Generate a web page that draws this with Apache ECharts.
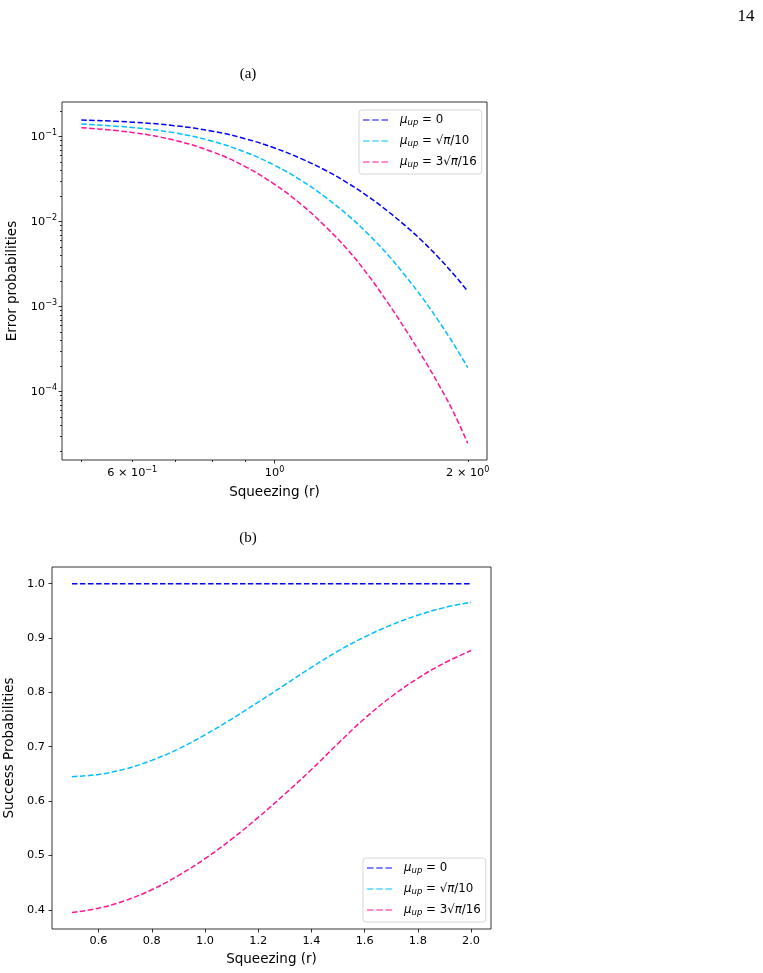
<!DOCTYPE html>
<html>
<head>
<meta charset="utf-8">
<script src="https://cdn.jsdelivr.net/npm/echarts@6/dist/echarts.min.js"></script>
<style>
html, body { margin: 0; padding: 0; background: #fff; }
#chart { width: 763px; height: 973px; }
</style>
</head>
<body>
<div id="chart"></div>
<script>
// squeezing r values (shared x for both panels)
var squeezing = [0.5, 0.6, 0.7, 0.8, 0.9, 1.0, 1.1, 1.2, 1.3, 1.4, 1.5, 1.6, 1.7, 1.8, 1.9, 2.0];

// (a) error probabilities
var errMu0 = [0.1570, 0.1483, 0.1346, 0.1161, 0.0948, 0.0736, 0.0552, 0.0403, 0.0285, 0.0197, 0.01334, 0.00891, 0.00589, 0.00380, 0.00242, 0.00152];
var errMu1 = [0.1409, 0.1282, 0.1107, 0.0885, 0.0659, 0.0461, 0.0306, 0.01945, 0.01197, 0.00711, 0.00413, 0.00229, 0.001268, 0.000685, 0.000366, 0.000192];
var errMu2 = [0.1276, 0.1122, 0.0904, 0.0664, 0.0445, 0.0275, 0.0160, 0.00879, 0.00468, 0.00234, 0.001122, 0.000537, 0.000257, 0.000123, 0.0000575, 0.0000247];

// (b) success probabilities
var succMu0 = [1, 1, 1, 1, 1, 1, 1, 1, 1, 1, 1, 1, 1, 1, 1, 1];
var succMu1 = [0.645, 0.649, 0.659, 0.675, 0.696, 0.722, 0.751, 0.782, 0.814, 0.846, 0.876, 0.902, 0.924, 0.942, 0.956, 0.966];
var succMu2 = [0.395, 0.403, 0.417, 0.437, 0.463, 0.494, 0.530, 0.570, 0.613, 0.658, 0.706, 0.752, 0.792, 0.826, 0.854, 0.877];

var seriesNames = ['mu0', 'mu1', 'mu2'];
var legendRich = [
  '{m0|μ}{s|up}{t| = 0}',
  '{m0|μ}{s|up}{t| = √}{m|π}{t|/10}',
  '{m0|μ}{s|up}{t| = 3√}{m|π}{t|/16}'
];
var colors = ['#0000ff', '#00bfff', '#ff1493'];

// tick positions
var errXLabels = [0.6, 1, 2];
var errXMajor = [1];
var errXMinor = [0.5, 0.6, 0.7, 0.8, 0.9, 2];
var errYMajor = [1e-4, 1e-3, 1e-2, 1e-1];
var errYMinor = [2e-5, 3e-5, 4e-5, 5e-5, 6e-5, 7e-5, 8e-5, 9e-5,
                 2e-4, 3e-4, 4e-4, 5e-4, 6e-4, 7e-4, 8e-4, 9e-4,
                 2e-3, 3e-3, 4e-3, 5e-3, 6e-3, 7e-3, 8e-3, 9e-3,
                 2e-2, 3e-2, 4e-2, 5e-2, 6e-2, 7e-2, 8e-2, 9e-2, 2e-1];
var succXTicks = [0.6, 0.8, 1.0, 1.2, 1.4, 1.6, 1.8, 2.0];
var succYTicks = [0.4, 0.5, 0.6, 0.7, 0.8, 0.9, 1.0];

var FONT = 'DejaVu Sans';

// 6e-1 -> "6 × 10^-1" as rich text
function logLabel(v) {
  var e = Math.floor(Math.log10(v) + 1e-9);
  var m = Math.round(v / Math.pow(10, e));
  return '{b|' + (m === 1 ? '' : m + ' × ') + '10}{e|' + String(e).replace('-', '−') + '}';
}
function pairs(xs, ys) {
  return xs.map(function (x, i) { return [x, ys[i]]; });
}

var chart = echarts.init(document.getElementById('chart'));

var tickStyle = { color: '#000', width: 0.8 };
var labelStyle = { color: '#000', fontFamily: FONT, fontSize: 11.3 };
var nameStyle = { color: '#000', fontFamily: FONT, fontSize: 13.5 };
var logRich = {
  b: { color: '#000', fontFamily: FONT, fontSize: 11.3 },
  e: { color: '#000', fontFamily: FONT, fontSize: 8, padding: [0, 0, 7, 0] }
};

var richStyle = {
  m0: { fontFamily: FONT, fontSize: 11.8, fontStyle: 'italic', color: '#000', padding: [0, 0, 0, 7] },
  m: { fontFamily: FONT, fontSize: 11.8, fontStyle: 'italic', color: '#000' },
  s: { fontFamily: FONT, fontSize: 8.5, fontStyle: 'italic', color: '#000', padding: [5, 0, 0, 0] },
  t: { fontFamily: FONT, fontSize: 11.8, color: '#000' }
};
function legendFmt(name) { return legendRich[seriesNames.indexOf(name)]; }

function makeLegend(left, top) {
  return {
    orient: 'vertical', left: left, top: top,
    data: seriesNames.map(function (n, i) {
      return { name: n, itemStyle: { color: colors[i], borderWidth: 0, opacity: 1 } };
    }),
    icon: 'path://M0,0H6.5V1H0Z M9.25,0H15.75V1H9.25Z M18.5,0H25V1H18.5Z',
    itemWidth: 25, itemHeight: 2, itemGap: 8,
    padding: [4, 5, 5, 4],
    borderColor: '#d6d6d6', borderWidth: 1, borderRadius: 3,
    backgroundColor: '#fff',
    formatter: legendFmt,
    textStyle: { rich: richStyle },
    selectedMode: false
  };
}

var errSeries = [errMu0, errMu1, errMu2].map(function (d, i) {
  return {
    name: seriesNames[i], type: 'line', xAxisIndex: 0, yAxisIndex: 0,
    data: pairs(squeezing, d), smooth: 0.4, symbol: 'none',
    lineStyle: { color: colors[i], width: 1.5, type: [5.5, 2.5] },
    itemStyle: { color: colors[i] }
  };
});
var succSeries = [succMu0, succMu1, succMu2].map(function (d, i) {
  return {
    name: seriesNames[i], type: 'line', xAxisIndex: 2, yAxisIndex: 2,
    data: pairs(squeezing, d), smooth: 0.4, symbol: 'none',
    lineStyle: { color: colors[i], width: 1.5, type: [5.5, 2.5] },
    itemStyle: { color: colors[i] }
  };
});

var gridBase = { show: true, borderColor: '#000', borderWidth: 0.8, backgroundColor: 'transparent', containLabel: false, outerBoundsMode: 'none' };

chart.setOption({
  animation: false,
  grid: [
    Object.assign({ left: 62, top: 102, width: 425, height: 358 }, gridBase),
    Object.assign({ left: 52, top: 567, width: 439, height: 362 }, gridBase),
    // same box as (a), only carries the minor log ticks
    { left: 62, top: 102, width: 425, height: 358, show: false, containLabel: false, outerBoundsMode: 'none' }
  ],
  xAxis: [
    {
      type: 'log', gridIndex: 0, min: 0.4665, max: 2.143,
      name: 'Squeezing (r)', nameLocation: 'middle', nameGap: 25, nameTextStyle: nameStyle,
      axisLine: { show: false }, splitLine: { show: false },
      axisTick: { length: 3.5, lineStyle: tickStyle, customValues: errXMajor },
      axisLabel: Object.assign({ margin: 6, customValues: errXLabels, formatter: logLabel, rich: logRich }, labelStyle)
    },
    {
      type: 'log', gridIndex: 2, min: 0.4665, max: 2.143, position: 'bottom',
      axisLine: { show: false }, splitLine: { show: false }, axisLabel: { show: false },
      axisTick: { length: 2, lineStyle: tickStyle, customValues: errXMinor }
    },
    {
      type: 'value', gridIndex: 1, min: 0.425, max: 2.075,
      name: 'Squeezing (r)', nameLocation: 'middle', nameGap: 23, nameTextStyle: nameStyle,
      axisLine: { show: false }, splitLine: { show: false },
      axisTick: { length: 3.5, lineStyle: tickStyle, customValues: succXTicks },
      axisLabel: Object.assign({ margin: 7, customValues: succXTicks, formatter: function (v) { return v.toFixed(1); } }, labelStyle)
    }
  ],
  yAxis: [
    {
      type: 'log', gridIndex: 0, min: 1.57e-5, max: 0.256,
      name: 'Error probabilities', nameLocation: 'middle', nameGap: 40, nameTextStyle: nameStyle,
      axisLine: { show: false }, splitLine: { show: false },
      axisTick: { length: 3.5, lineStyle: tickStyle, customValues: errYMajor },
      axisLabel: Object.assign({ margin: 5, customValues: errYMajor, formatter: logLabel, rich: logRich }, labelStyle)
    },
    {
      type: 'log', gridIndex: 2, min: 1.57e-5, max: 0.256, position: 'left',
      axisLine: { show: false }, splitLine: { show: false }, axisLabel: { show: false },
      axisTick: { length: 2, lineStyle: tickStyle, customValues: errYMinor }
    },
    {
      type: 'value', gridIndex: 1, min: 0.3647, max: 1.0307,
      name: 'Success Probabilities', nameLocation: 'middle', nameGap: 31, nameTextStyle: nameStyle,
      axisLine: { show: false }, splitLine: { show: false },
      axisTick: { length: 3.5, lineStyle: tickStyle, customValues: succYTicks },
      axisLabel: Object.assign({ margin: 7, customValues: succYTicks, formatter: function (v) { return v.toFixed(1); } }, labelStyle)
    }
  ],
  legend: [makeLegend(359, 110), makeLegend(363, 858)],
  graphic: [
    { type: 'text', x: 746, y: 17, style: { text: '14', font: '17px "Liberation Serif"', fill: '#000', textAlign: 'center', textVerticalAlign: 'middle' } },
    { type: 'text', x: 248, y: 74, style: { text: '(a)', font: '15px "Liberation Serif"', fill: '#000', textAlign: 'center', textVerticalAlign: 'middle' } },
    { type: 'text', x: 248, y: 538, style: { text: '(b)', font: '15px "Liberation Serif"', fill: '#000', textAlign: 'center', textVerticalAlign: 'middle' } }
  ],
  series: errSeries.concat(succSeries)
});
</script>
</body>
</html>
